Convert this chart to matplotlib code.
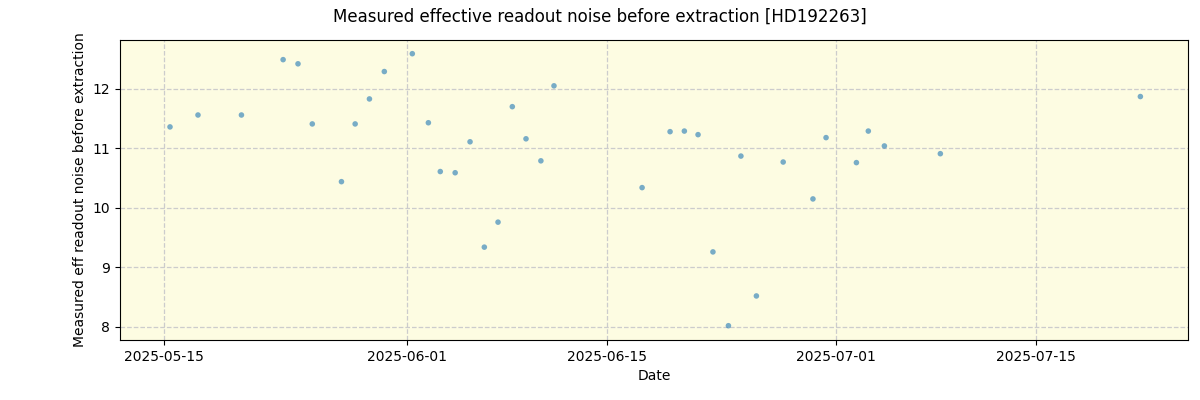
import matplotlib
matplotlib.use("Agg")
import matplotlib.pyplot as plt
import matplotlib.dates as mdates
import pandas as pd

dates = [
    "2025-05-15 08:00", "2025-05-17 07:00", "2025-05-20 08:00", "2025-05-23 06:00",
    "2025-05-24 07:00", "2025-05-25 07:00", "2025-05-27 08:00", "2025-05-28 07:00",
    "2025-05-29 07:00", "2025-05-30 08:00", "2025-06-01 07:00", "2025-06-02 10:00",
    "2025-06-03 06:00", "2025-06-04 07:00", "2025-06-05 08:00", "2025-06-06 08:00",
    "2025-06-07 07:00", "2025-06-08 07:00", "2025-06-09 06:00", "2025-06-10 07:00",
    "2025-06-11 05:00", "2025-06-17 09:00", "2025-06-19 08:00", "2025-06-20 08:00",
    "2025-06-21 07:00", "2025-06-22 08:00", "2025-06-23 10:00", "2025-06-24 07:00",
    "2025-06-25 09:00", "2025-06-27 06:00", "2025-06-29 08:00", "2025-06-30 06:00",
    "2025-07-02 09:00", "2025-07-03 05:00", "2025-07-04 08:00", "2025-07-08 06:00",
    "2025-07-22 06:00",
]
noise = [
    11.36, 11.56, 11.56, 12.49, 12.42, 11.41, 10.44, 11.41, 11.83, 12.29,
    12.59, 11.43, 10.61, 10.59, 11.11, 9.34, 9.76, 11.70, 11.16, 10.79,
    12.05, 10.34, 11.28, 11.29, 11.23, 9.26, 8.02, 10.87, 8.52, 10.77,
    10.15, 11.18, 10.76, 11.29, 11.04, 10.91, 11.87,
]
tick_dates = ["2025-05-15", "2025-06-01", "2025-06-15", "2025-07-01", "2025-07-15"]

x = pd.to_datetime(dates) + pd.Timedelta(hours=2)

fig, ax = plt.subplots(figsize=(12, 4), dpi=100)
ax.set_facecolor("#fdfce2")
ax.scatter(x, noise, s=16, color="tab:blue", alpha=0.6, edgecolors="none", zorder=3)

ax.set_xlim(pd.Timestamp("2025-05-11 22:00"), pd.Timestamp("2025-07-25 16:00"))
ax.set_ylim(7.78, 12.82)
ax.set_xticks(pd.to_datetime(tick_dates))
ax.xaxis.set_major_formatter(mdates.DateFormatter("%Y-%m-%d"))
ax.set_yticks([8, 9, 10, 11, 12])
ax.grid(True, color="#cccccc", linestyle="--", linewidth=0.9)
ax.set_axisbelow(True)

ax.set_xlabel("Date")
ax.set_ylabel("Measured eff readout noise before extraction")
fig.suptitle("Measured effective readout noise before extraction [HD192263]")
fig.subplots_adjust(left=0.1, right=0.99, top=0.9, bottom=0.15)
fig.savefig("out.png", dpi=100)
